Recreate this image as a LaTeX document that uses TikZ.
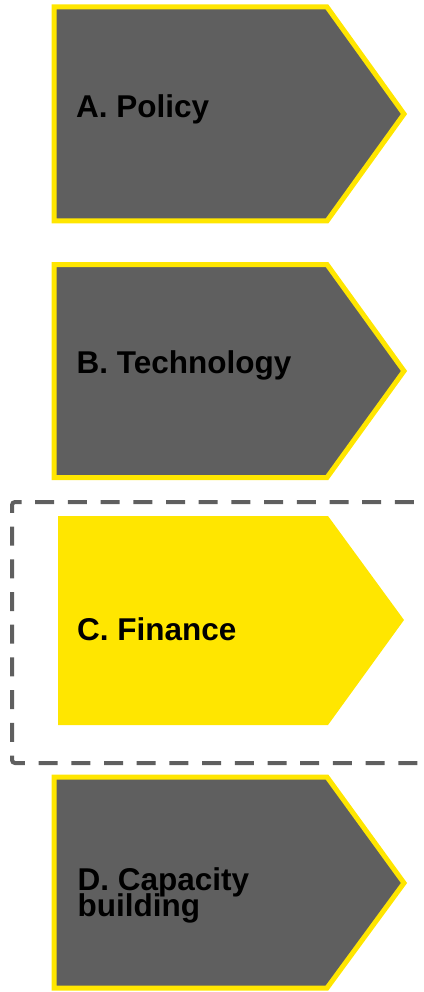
\documentclass[tikz,border=0pt]{standalone}
\usepackage{fontspec}
\setmainfont{Liberation Sans}
\definecolor{eyyellow}{HTML}{FFE600}
\definecolor{eygrey}{HTML}{5F5F5F}
\newcommand\tightlines{\lineskiplimit=-100pt\relax}
\begin{document}
\begin{tikzpicture}[x=1pt,y=-1pt,
  chevron/.style={fill=eygrey,draw=eyyellow,line width=5pt,miter limit=10},
  focus/.style={fill=eyyellow},
  label/.style={anchor=base west,inner sep=0pt,font=\fontsize{31.5}{26.7}\selectfont\bfseries\tightlines,text=black,align=left},
  frame/.style={draw=eygrey,line width=4pt,dash pattern=on 19pt off 13.7pt,dash phase=6.6pt,rounded corners=3pt}]
\useasboundingbox (0,0) rectangle (423,992);

% A. Policy
\draw[chevron] (54,7) -- (327,7) -- (404,114) -- (327,221) -- (54,221) -- cycle;
\node[label] (a) at (76,118) {A. Policy};

% B. Technology
\draw[chevron] (54,264.5) -- (327,264.5) -- (404,371) -- (327,477.5) -- (54,477.5) -- cycle;
\node[label] (b) at (76.5,373.3) {B. Technology};

% C. Finance, highlighted inside a dashed frame
\fill[focus] (58,516) -- (328,516) -- (404,620) -- (328,725) -- (58,725) -- cycle;
\node[label] (c) at (77,640) {C. Finance};
\draw[frame] (440,502) -- (12,502) -- (12,763) -- (440,763);

% D. Capacity building (base anchor sits on the last line)
\draw[chevron] (54,777) -- (327,777) -- (404,883) -- (327,988) -- (54,988) -- cycle;
\node[label] (d) at (77.5,916.7) {D. Capacity\\building};
\end{tikzpicture}
\end{document}
